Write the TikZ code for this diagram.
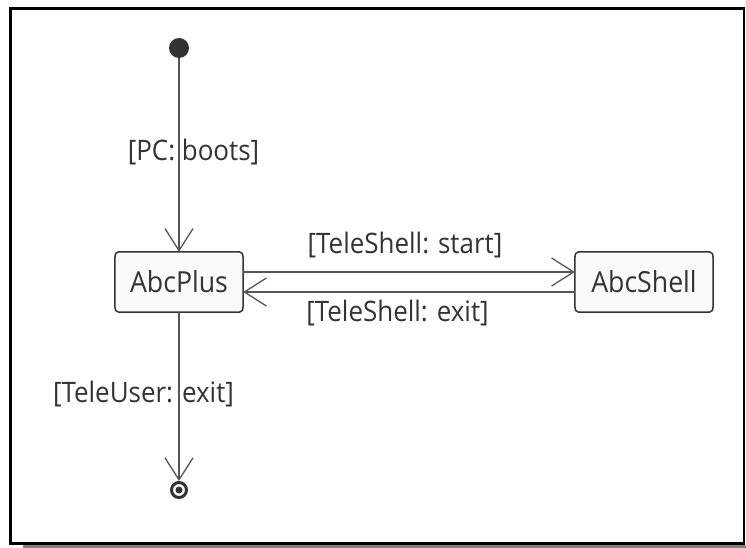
\documentclass[tikz,border=0pt]{standalone}
\usepackage{fontspec}
\setmainfont{Open Sans}[FakeStretch=0.92]
\usetikzlibrary{arrows.meta,calc,backgrounds}
\definecolor{inkgray}{HTML}{333333}
\definecolor{wiregray}{HTML}{555555}
\definecolor{statefill}{HTML}{FAFAFA}
\definecolor{shadowgray}{HTML}{808080}
\tikzset{
  statebox/.style={inner sep=0pt, minimum height=60pt, text=inkgray,
    font=\fontsize{29}{34}\selectfont},
  stateline/.style={draw=inkgray, line width=1.5pt, fill=statefill},
  wire/.style={draw=wiregray, line width=1.4pt,
    -{Straight Barb[length=22pt,width=28pt,line width=1.3pt]}},
  guard/.style={inner sep=0pt, text=inkgray, font=\fontsize{28.2}{32}\selectfont},
}
% outline of a state: straight edges with softly rounded corners
\newcommand\stateborder[1]{%
  \path[stateline] let \p1=(#1.north west), \p2=(#1.south east) in
    (\x1+8pt,\y1) -- (\x2-8pt,\y1) .. controls (\x2,\y1) .. (\x2,\y1-13pt)
    -- (\x2,\y2+13pt) .. controls (\x2,\y2) .. (\x2-8pt,\y2)
    -- (\x1+8pt,\y2) .. controls (\x1,\y2) .. (\x1,\y2+13pt)
    -- (\x1,\y1-13pt) .. controls (\x1,\y1) .. (\x1+8pt,\y1) -- cycle;}
\begin{document}
\begin{tikzpicture}[x=1pt,y=-1pt]
  \useasboundingbox (0,0) rectangle (746,548);
  % frame with its shadow
  \fill[shadowgray] (23,545) rectangle (746,548);
  \draw[black, line width=2.2pt] (10.5,8.5) rectangle (744,543.5);

  % states
  \node[statebox, minimum width=128pt] (plus) at (179,282) {AbcPlus};
  \node[statebox, minimum width=138pt] (shell) at (644,282) {AbcShell};
  \begin{scope}[on background layer]
    \stateborder{plus}
    \stateborder{shell}
  \end{scope}

  % pseudo states
  \node[circle, fill=inkgray, minimum size=20pt, inner sep=0pt] (init) at (179,48) {};
  \node[circle, draw=inkgray, line width=3pt, fill=white, minimum size=15pt,
        inner sep=0pt] (final) at (179,490) {};
  \fill[inkgray] (final.center) circle[radius=3.5pt];

  % transitions
  \draw[wire] (init) -- (plus);
  \draw[wire] ([yshift=10pt]plus.east) -- ([yshift=10pt]shell.west);
  \draw[wire] ([yshift=-10pt]shell.west) -- ([yshift=-10pt]plus.east);
  \draw[wire] (plus) -- (final);

  % guards
  \node[guard] (g1) at (193.5,152) {[PC: boots]};
  \node[guard] (g2) at (405,245) {[TeleShell: start]};
  \node[guard] (g3) at (397.5,313) {[TeleShell: exit]};
  \node[guard] (g4) at (143.5,394) {[TeleUser: exit]};
\end{tikzpicture}
\end{document}
